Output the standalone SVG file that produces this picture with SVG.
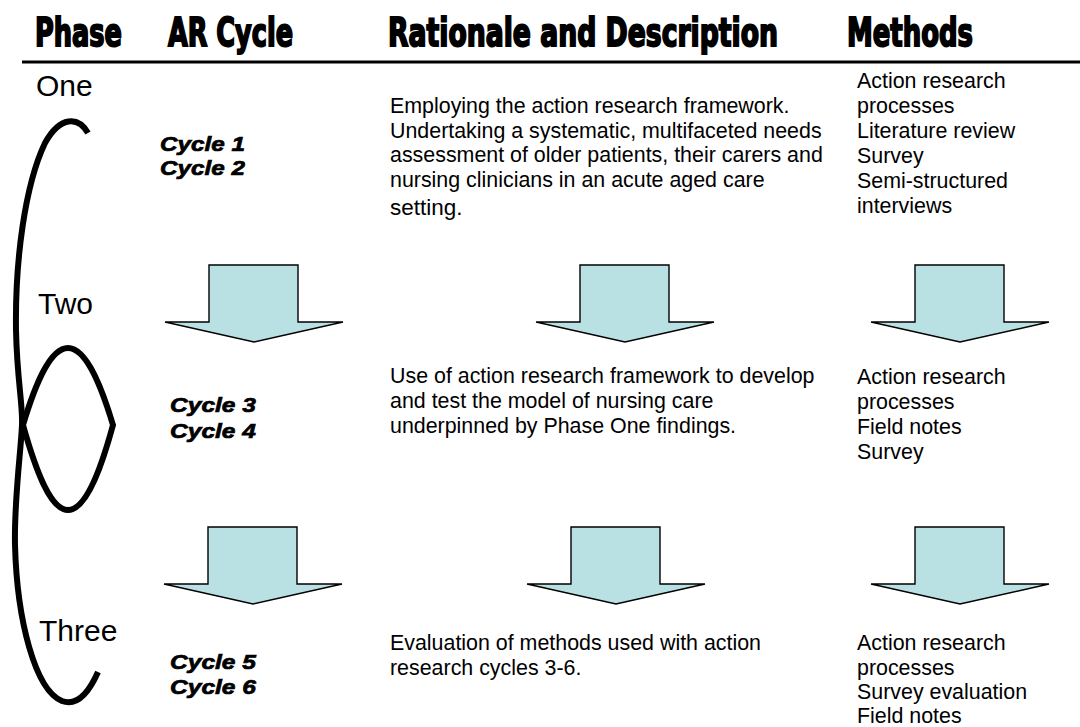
<svg xmlns="http://www.w3.org/2000/svg" width="1080" height="727" viewBox="0 0 1080 727">
  <style>
    .hdr { font-family: Impact, "Liberation Sans Narrow", "DejaVu Sans Condensed", "Liberation Sans", sans-serif; font-weight: bold; font-size: 39px; fill: #000; stroke: #000; stroke-width: 1.9px; }
    .phase { font-family: "Liberation Sans", Arial, sans-serif; font-size: 30px; fill: #000; }
    .cyc { font-family: "Liberation Sans", Arial, sans-serif; font-weight: bold; font-style: italic; font-size: 21px; fill: #000; stroke: #000; stroke-width: 0.7px; }
    .body { font-family: "Liberation Sans", Arial, sans-serif; font-size: 21.4px; fill: #000; }
    .arrow { fill: #B9E0E3; stroke: #000; stroke-width: 1.4px; stroke-linejoin: miter; }
    .cycle-line { fill: none; stroke: #000; stroke-width: 6px; stroke-linecap: butt; }
  </style>
  <defs>
    <!-- block arrow pointing down, origin at shaft top-left -->
    <path id="downArrow" class="arrow" d="M 0 0 H 89 V 57 H 134 L 45 77 L -44 57 H 0 Z"/>
  </defs>
  <rect width="1080" height="727" fill="#fff"/>

  <!-- column headings -->
  <g id="headings">
    <text class="hdr" x="35" y="46" textLength="87" lengthAdjust="spacingAndGlyphs">Phase</text>
    <text class="hdr" x="168" y="46" textLength="125" lengthAdjust="spacingAndGlyphs">AR Cycle</text>
    <text class="hdr" x="388" y="46" textLength="390" lengthAdjust="spacingAndGlyphs">Rationale and Description</text>
    <text class="hdr" x="847" y="46" textLength="126" lengthAdjust="spacingAndGlyphs">Methods</text>
    <line x1="22" y1="62" x2="1080" y2="62" stroke="#000" stroke-width="3"/>
  </g>

  <!-- phase labels -->
  <g id="phase-one"><text class="phase" x="36" y="96">One</text></g>
  <g id="phase-two"><text class="phase" x="38" y="314">Two</text></g>
  <g id="phase-three"><text class="phase" x="39" y="641">Three</text></g>

  <!-- spiral line linking the phases -->
  <g id="connectors">
    <path class="cycle-line" d="M 88 133 C 78 116, 60 116, 45 143 C 25 185, 15 260, 16 330 C 17 380, 23 405, 22 425 C 21 450, 14 500, 15 545 C 17 620, 35 690, 62 701 C 78 707, 90 690, 98 672"/>
    <path class="cycle-line" d="M 23 425 C 35 385, 50 348, 68 348 C 88 348, 104 395, 113 425 C 104 458, 88 510, 68 510 C 50 510, 35 468, 23 425 Z"/>
    <use href="#downArrow" x="209" y="265"/>
    <use href="#downArrow" x="580" y="265"/>
    <use href="#downArrow" x="915" y="265"/>
    <use href="#downArrow" x="208" y="527"/>
    <use href="#downArrow" x="571" y="527"/>
    <use href="#downArrow" x="915" y="527"/>
  </g>

  <!-- AR cycles -->
  <g id="cycles-1-2">
    <text class="cyc" x="160" y="151" textLength="85" lengthAdjust="spacingAndGlyphs">Cycle 1</text>
    <text class="cyc" x="160" y="175" textLength="85" lengthAdjust="spacingAndGlyphs">Cycle 2</text>
  </g>
  <g id="cycles-3-4">
    <text class="cyc" x="170" y="412" textLength="86" lengthAdjust="spacingAndGlyphs">Cycle 3</text>
    <text class="cyc" x="170" y="438" textLength="86" lengthAdjust="spacingAndGlyphs">Cycle 4</text>
  </g>
  <g id="cycles-5-6">
    <text class="cyc" x="170" y="669" textLength="86" lengthAdjust="spacingAndGlyphs">Cycle 5</text>
    <text class="cyc" x="170" y="694" textLength="86" lengthAdjust="spacingAndGlyphs">Cycle 6</text>
  </g>

  <!-- rationale and description -->
  <g id="rationale-one" class="body">
    <text x="390" y="113">Employing the action research framework.</text>
    <text x="390" y="138">Undertaking a systematic, multifaceted needs</text>
    <text x="390" y="162">assessment of older patients, their carers and</text>
    <text x="390" y="187">nursing clinicians in an acute aged care</text>
    <text x="390" y="215" style="font-size:22.5px">setting.</text>
  </g>
  <g id="rationale-two" class="body">
    <text x="390" y="383">Use of action research framework to develop</text>
    <text x="390" y="408">and test the model of nursing care</text>
    <text x="390" y="433">underpinned by Phase One findings.</text>
  </g>
  <g id="rationale-three" class="body">
    <text x="390" y="650">Evaluation of methods used with action</text>
    <text x="390" y="675">research cycles 3-6.</text>
  </g>

  <!-- methods -->
  <g id="methods-one" class="body">
    <text x="857" y="88">Action research</text>
    <text x="857" y="113">processes</text>
    <text x="857" y="138">Literature review</text>
    <text x="857" y="163">Survey</text>
    <text x="857" y="188">Semi-structured</text>
    <text x="857" y="213">interviews</text>
  </g>
  <g id="methods-two" class="body">
    <text x="857" y="384">Action research</text>
    <text x="857" y="409">processes</text>
    <text x="857" y="434">Field notes</text>
    <text x="857" y="459">Survey</text>
  </g>
  <g id="methods-three" class="body">
    <text x="857" y="650">Action research</text>
    <text x="857" y="675">processes</text>
    <text x="857" y="699">Survey evaluation</text>
    <text x="857" y="723">Field notes</text>
  </g>
</svg>
